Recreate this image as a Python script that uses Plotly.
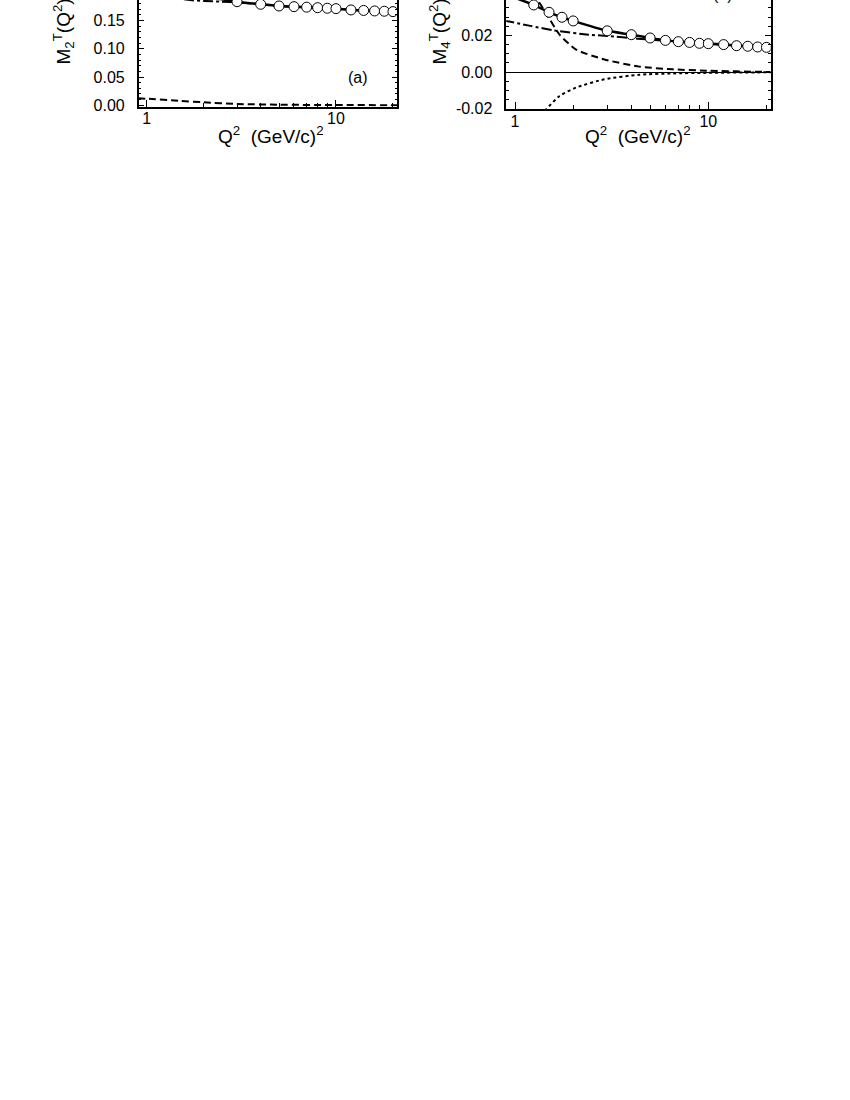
import plotly.graph_objects as go

# panel (a): M2^T(Q^2)
q2_circ_a = [3, 4, 5, 6, 7, 8, 9, 10, 12, 14, 16, 18, 20]
m2_circ = [0.1834, 0.1788, 0.1758, 0.1746, 0.1737, 0.1728, 0.1718, 0.1711, 0.1688, 0.1679, 0.1670, 0.1665, 0.1658]
q2_solid_a = [1.0, 1.5, 2.0, 2.5, 3, 4, 5, 6, 7, 8, 9, 10, 12, 14, 16, 18, 20, 21]
m2_solid = [0.240, 0.210, 0.195, 0.1875, 0.1834, 0.1788, 0.1758, 0.1746, 0.1737, 0.1728, 0.1718, 0.1711, 0.1688, 0.1679, 0.1670, 0.1665, 0.1658, 0.1656]
q2_dashdot_a = [1.0, 1.5, 1.7, 2.0, 2.5, 3, 4, 5, 7, 10, 14, 20, 21]
m2_dashdot = [0.200, 0.189, 0.1862, 0.1848, 0.1835, 0.1824, 0.1788, 0.1758, 0.1737, 0.1711, 0.1679, 0.1658, 0.1656]
q2_dash_a = [0.9, 1.0, 1.5, 2.0, 3, 5, 10, 20, 21]
m2_dash = [0.0123, 0.0115, 0.0078, 0.0052, 0.0022, 0.0009, 0.0003, 0.0001, 0.0001]

# panel (b): M4^T(Q^2)
q2_circ_b = [1.25, 1.5, 1.75, 2, 3, 4, 5, 6, 7, 8, 9, 10, 12, 14, 16, 18, 20]
m4_circ = [0.0366, 0.0326, 0.0299, 0.0279, 0.0225, 0.0204, 0.0186, 0.0173, 0.0166, 0.0162, 0.0157, 0.0155, 0.0150, 0.0144, 0.0141, 0.0137, 0.0135]
q2_solid_b = [0.9, 1.0, 1.25, 1.5, 1.75, 2, 3, 4, 5, 6, 7, 8, 9, 10, 12, 14, 16, 18, 20, 21]
m4_solid = [0.0423, 0.0405, 0.0366, 0.0326, 0.0299, 0.0279, 0.0225, 0.0204, 0.0186, 0.0173, 0.0166, 0.0162, 0.0157, 0.0155, 0.0150, 0.0144, 0.0141, 0.0137, 0.0135, 0.0134]
q2_dashdot_b = [0.88, 1.2, 1.6, 2.4, 3, 4.3, 6.5, 10, 14, 20, 21]
m4_dashdot = [0.0281, 0.0252, 0.0227, 0.0204, 0.0197, 0.0182, 0.0168, 0.0154, 0.0145, 0.0137, 0.0136]
q2_dash_b = [1.0, 1.2, 1.3, 1.45, 1.7, 2.07, 2.9, 4.4, 6.55, 9.8, 20, 21]
m4_dash = [0.065, 0.047, 0.040, 0.032, 0.0204, 0.0123, 0.0069, 0.0030, 0.0015, 0.0008, 0.0001, 0.0001]
q2_dot_b = [1.2, 1.3, 1.45, 1.7, 2.07, 2.9, 4.4, 6.55, 9.8, 20, 21]
m4_dot = [-0.035, -0.026, -0.0202, -0.013, -0.0084, -0.0039, -0.0014, -0.0007, -0.0004, -0.0001, -0.0001]

# ticks
x_major = [1, 10]
x_major_text = ["1", "10"]
x_minor = [2, 3, 4, 5, 6, 7, 8, 9, 20]
ya_vals = [0.00, 0.05, 0.10, 0.15]
ya_text = ["0.00", "0.05", "0.10", "0.15"]
yb_vals = [-0.02, 0.00, 0.02, 0.04]
yb_text = ["-0.02", "0.00", "0.02", "0.04"]

W, H = 850, 1100
font = "Arial, Liberation Sans, sans-serif"

fig = go.Figure()

def curve(x, y, xa, ya, dash, width=2):
    fig.add_trace(go.Scatter(x=x, y=y, xaxis=xa, yaxis=ya, mode="lines",
                             line=dict(color="black", width=width, dash=dash, shape="spline", smoothing=0.6),
                             showlegend=False, hoverinfo="skip"))

def circles(x, y, xa, ya):
    fig.add_trace(go.Scatter(x=x, y=y, xaxis=xa, yaxis=ya, mode="markers",
                             marker=dict(symbol="circle", size=10, color="white",
                                         line=dict(color="black", width=1)),
                             showlegend=False, cliponaxis=True))

# (a)
curve(q2_dash_a, m2_dash, "x", "y", "7px,4px")
curve(q2_dashdot_a, m2_dashdot, "x", "y", "10px,3px,3px,3px")
curve(q2_solid_a, m2_solid, "x", "y", "solid", 2.5)
circles(q2_circ_a, m2_circ, "x", "y")

# (b)
curve(q2_dash_b, m4_dash, "x2", "y2", "7px,4px")
curve(q2_dot_b, m4_dot, "x2", "y2", "3px,3px")
curve(q2_dashdot_b, m4_dashdot, "x2", "y2", "10px,3px,3px,3px")
curve(q2_solid_b, m4_solid, "x2", "y2", "solid", 2.5)
circles(q2_circ_b, m4_circ, "x2", "y2")

tickfont = dict(family=font, size=16, color="black")

def xaxis(left, right, rng):
    return dict(type="log", domain=[left / W, right / W], range=rng,
                showline=True, linecolor="black", linewidth=1.5, mirror=False,
                ticks="inside", ticklen=7, tickwidth=1, tickcolor="black",
                tickmode="array", tickvals=x_major, ticktext=x_major_text,
                minor=dict(tickmode="array", tickvals=x_minor, ticks="inside", ticklen=4,
                           tickwidth=1, tickcolor="black", showgrid=False),
                showgrid=False, zeroline=False, tickfont=tickfont, ticklabelstandoff=-3)

def yaxis(anchor, bottom, rng, vals, text, minor_dtick):
    return dict(anchor=anchor, domain=[1 - bottom / H, 1], range=rng,
                showline=True, linecolor="black", linewidth=1.5, mirror="ticks",
                ticks="inside", ticklen=6, tickwidth=1, tickcolor="black",
                tickmode="array", tickvals=vals, ticktext=text,
                minor=dict(dtick=minor_dtick, tick0=0, ticks="inside", ticklen=3,
                           tickwidth=1, tickcolor="black", showgrid=False),
                showgrid=False, tickfont=tickfont, ticklabelstandoff=9)

fig.update_layout(
    width=W, height=H,
    margin=dict(l=0, r=0, t=0, b=0),
    paper_bgcolor="white", plot_bgcolor="white",
    xaxis=xaxis(138.7, 397.3, [-0.0423, 1.324]),
    yaxis=yaxis("x", 107.3, [-0.0023, 0.1864], ya_vals, ya_text, 0.01),
    xaxis2=xaxis(506.3, 770.7, [-0.045, 1.3228]),
    yaxis2=yaxis("x2", 110, [-0.0202, 0.0393], yb_vals, yb_text, 0.005),
)
fig.layout.xaxis.anchor = "y"
fig.layout.xaxis2.anchor = "y2"
fig.layout.yaxis.zeroline = False
fig.layout.yaxis2.zeroline = True
fig.layout.yaxis2.zerolinecolor = "black"
fig.layout.yaxis2.zerolinewidth = 1

def py(px):
    return 1 - px / H

titlefont = dict(family=font, size=19, color="black")
notes = [
    dict(x=64 / W, y=py(67), text="M<sub>2</sub><sup>T</sup>(Q<sup>2</sup>)", textangle=-90,
         xanchor="center", yanchor="bottom", font=titlefont),
    dict(x=440 / W, y=py(67), text="M<sub>4</sub><sup>T</sup>(Q<sup>2</sup>)", textangle=-90,
         xanchor="center", yanchor="bottom", font=titlefont),
    dict(x=271 / W, y=py(136), text="Q<sup>2</sup>  (GeV/c)<sup>2</sup>",
         xanchor="center", yanchor="middle", font=titlefont),
    dict(x=638 / W, y=py(136), text="Q<sup>2</sup>  (GeV/c)<sup>2</sup>",
         xanchor="center", yanchor="middle", font=titlefont),
    dict(x=358 / W, y=py(78), text="(a)", xanchor="center", yanchor="middle",
         font=dict(family=font, size=16, color="black")),
    dict(x=723 / W, y=py(5), text="(b)", xanchor="center", yanchor="bottom",
         font=dict(family=font, size=16, color="black")),
]
for n in notes:
    fig.add_annotation(xref="paper", yref="paper", showarrow=False, **n)

# drop the page's default body margin so the figure sits at the window corner
fig.write_html("out.html", config={"displayModeBar": False},
               post_script="document.body.style.margin='0';")
